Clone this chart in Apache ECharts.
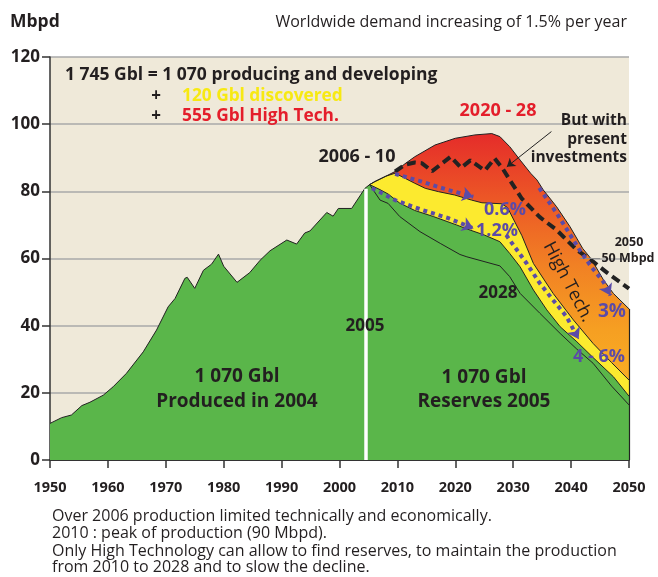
<!DOCTYPE html>
<html><head><meta charset="utf-8">
<script src="https://cdn.jsdelivr.net/npm/echarts@6/dist/echarts.min.js"></script>
<style>html,body{margin:0;padding:0;background:#fff}#c{width:658px;height:577px}</style>
</head><body><div id="c"></div>
<script>
// ---------- DATA ----------
const xTickYears = [1950,1960,1970,1980,1990,2000,2010,2020,2030,2040,2050];
const yTicks = [0,20,40,60,80,100,120];

// historical world production (Mbpd), 1950-2005
const historic = [[1950,10.9],[1952,12.6],[1953.7,13.4],[1955.5,16.2],[1956.9,17.2],[1959.2,19.3],[1960.9,21.8],[1963.2,25.8],[1966.1,32.2],[1968.4,38.7],[1970.4,45.6],[1971.6,48.1],[1973.3,54.1],[1973.7,54.4],[1975,51.1],[1976.5,56.5],[1977.9,58.3],[1979.1,61.3],[1980,57.7],[1982.3,52.9],[1984.5,55.8],[1986.3,59.5],[1988,62.3],[1990.9,65.5],[1992.6,64.3],[1994,67.6],[1994.9,68.2],[1997.8,73.7],[1998.9,72.6],[1999.8,74.9],[2002.1,74.9],[2004.4,80.9],[2005.2,82]];
// producing and developing (1 070 Gbl) forecast
const producing = [[2007,80.5],[2008.4,79.2],[2010.4,76.5],[2013,74.3],[2016.2,72.5],[2020.2,70.0],[2022,68.8],[2025,67],[2027.7,65.0],[2029.4,61.5],[2031.2,57.5],[2033.5,50.6],[2035.8,44.7],[2038.1,39.7],[2041,35.2],[2043.8,30.5],[2047.3,24.8],[2050,19]];
// 2028 curve (reserves 2005)
const reserves2028 = [[2005.2,82],[2007,77.4],[2008.4,76.4],[2010.4,72.5],[2013.9,68],[2017.4,64.5],[2020.8,61.2],[2022,60.5],[2027.7,57.8],[2029.4,54.6],[2031.2,49.6],[2034.6,43.7],[2038.1,37.7],[2041,33],[2043.8,28.8],[2047,22],[2050,16.4]];
// + 120 Gbl discovered (top of yellow)
const discovered = [[2005.2,82],[2006.1,82.9],[2008,84.5],[2009.6,85.4],[2011.3,83.9],[2013,82.4],[2014.8,80.9],[2017.1,79.9],[2019.9,78.9],[2022.8,77.4],[2024.6,76.6],[2028,76.3],[2029,75.2],[2031.5,66.8],[2033.5,58.5],[2036.9,49.6],[2040.4,41.7],[2043.8,34.7],[2047,29],[2050,23.8]];
// + 555 Gbl High Tech (top of orange)
const highTech = [[2005.2,82],[2006.1,82.9],[2008,84.5],[2009.6,85.9],[2011.3,88.2],[2013,90.3],[2016.5,93.8],[2020,95.8],[2023.4,96.8],[2026.3,97.2],[2027.7,96.3],[2029.4,93.3],[2031.2,89.3],[2033,85.4],[2034.1,83.4],[2035.2,80.4],[2037.5,75.4],[2039.8,69.5],[2042,63],[2043.5,59.8],[2045.6,53.6],[2047.3,49.6],[2050,45]];
// but with present investments
const presentInv = [[2009.6,85.9],[2011.3,87.9],[2013,88.6],[2014.2,88.4],[2016,86],[2019.2,90.3],[2021,87],[2022.6,89.2],[2025.1,86.2],[2026.8,89.8],[2028.2,86.7],[2029.4,83.4],[2031.5,77.8],[2034.6,72.3],[2037.5,68.5],[2041,62.5],[2043.8,59.1],[2046.2,55.8],[2050,51]];
// decline-rate arrows
const arrow06 = [[2009.6,85.2],[2012,84],[2014.2,82.9],[2016.5,81.6],[2018.8,80.4],[2023.1,78.4]];
const arrow12 = [[2005.6,80.9],[2007.5,79.3],[2009.6,77.4],[2014.2,74.5],[2018.8,72.0],[2023.1,69.0]];
const arrow3 = [[2034.5,81],[2037.5,73.5],[2041.5,62.5],[2043.5,57.5],[2045.6,53],[2046.8,49]];
const arrow46 = [[2028.8,67],[2029.4,65.5],[2032.3,58.6],[2034.6,52.6],[2036.9,47.6],[2039.2,42.7],[2041.3,36]];
const pointer = [[2036.6,97.8],[2028.9,87.3]];
const leader2050 = [[2041.5,60.1],[2045,60.1]];
const cutYear = 2004.6, cutTop = 80.8;

// ---------- CHART ----------
const FF = "'Open Sans', sans-serif";
const DARK = '#231f20', PURPLE = '#5b4ba8';
const greenAll = historic.concat(producing);
const chart = echarts.init(document.getElementById('c'), null, {renderer:'canvas'});

function T(text, x, y, size, o) {
  o = o || {};
  return {type:'text', x:x, y:y, rotation:o.rot||0, z:100,
    style:{text:text, fill:o.fill||DARK, font:(o.weight||'bold')+' '+size+'px '+FF,
      textAlign:o.align||'left', textVerticalAlign:'middle',
      shadowColor:o.shadow||null, shadowOffsetX:o.shadow?1:0, shadowOffsetY:o.shadow?1:0, shadowBlur:o.shadow?1:0}};
}
function headOf(pts) { // short final segment, used only to orient the arrow head
  const a = pts[pts.length-2], b = pts[pts.length-1];
  return [[b[0]-(b[0]-a[0])*0.08, b[1]-(b[1]-a[1])*0.08], b];
}
const dotted = (pts) => ({type:'line', data:pts, symbol:'none', z:5,
  lineStyle:{color:PURPLE, width:4, type:[4,4], cap:'butt'}});

const option = {
  animation:false,
  backgroundColor:'#fff',
  grid:{left:50, right:29, top:57, bottom:117, show:true, backgroundColor:'#efe9d9', borderWidth:0},
  xAxis:{type:'value', min:1950, max:2050, interval:10,
    axisLine:{show:true, onZero:false, lineStyle:{color:'#333', width:2}},
    axisTick:{show:true, length:8, lineStyle:{color:'#333', width:1.5}},
    axisLabel:{margin:20, fontFamily:FF, fontWeight:'bold', fontSize:14.5, color:DARK,
      formatter:v=>xTickYears.indexOf(v)>=0?String(v):''},
    splitLine:{show:false}},
  yAxis:{type:'value', min:0, max:120, interval:20,
    axisLine:{show:true, lineStyle:{color:'#333', width:1.5}},
    axisTick:{show:true, length:8, lineStyle:{color:'#333', width:1.5}},
    axisLabel:{margin:10, fontFamily:FF, fontWeight:'bold', fontSize:17, color:DARK,
      formatter:v=>yTicks.indexOf(v)>=0?String(v):''},
    splitLine:{show:true, lineStyle:{color:'#a8a8a8', width:1.5}}},
  series:[
    {type:'line', data:highTech, symbol:'none', lineStyle:{color:'#222', width:1},
      areaStyle:{opacity:1, color:{type:'linear',x:0,y:0,x2:0,y2:1,colorStops:[
        {offset:0,color:'#e52c2a'},{offset:0.2,color:'#ec5726'},{offset:0.4,color:'#f18024'},
        {offset:0.6,color:'#f69f22'},{offset:0.75,color:'#f9ae24'},{offset:1,color:'#f9ae24'}]}}},
    {type:'line', data:discovered, symbol:'none', lineStyle:{color:'#222', width:1},
      areaStyle:{opacity:1, color:'#fcea2f'}},
    {type:'line', data:greenAll, symbol:'none', lineStyle:{color:'#222', width:1},
      areaStyle:{opacity:1, color:'#5ab64a'}},
    {type:'line', data:reserves2028, symbol:'none', lineStyle:{color:'#222', width:1},
      markLine:{silent:true, symbol:'none', label:{show:false}, data:[
        [{coord:[cutYear,0], lineStyle:{color:'#fff', width:3.5, type:'solid'}},{coord:[cutYear,cutTop]}],
        [{coord:[2050,0], lineStyle:{color:'#222', width:1.2, type:'solid'}},{coord:[2050,45]}]
      ]}},
    {type:'line', data:presentInv, symbol:'none', z:4, lineStyle:{color:'#222', width:4, type:[9,5], cap:'butt'},
      markLine:{silent:true, symbol:'none', label:{show:false}, data:[
        [{coord:leader2050[0], lineStyle:{color:'#8c8c8c', width:1, type:'solid'}},{coord:leader2050[1]}]]}},
    dotted(arrow06), dotted(arrow12), dotted(arrow3), dotted(arrow46),
    {type:'lines', coordinateSystem:'cartesian2d', polyline:false, symbol:['none','arrow'], symbolSize:11, z:6,
      lineStyle:{color:PURPLE, width:1, opacity:1},
      data:[{coords:headOf(arrow06)},{coords:headOf(arrow12)},{coords:headOf(arrow3)},{coords:headOf(arrow46)}]},
    {type:'lines', coordinateSystem:'cartesian2d', polyline:false, symbol:['none','arrow'], symbolSize:8, z:6,
      lineStyle:{color:'#222', width:1, opacity:1}, data:[{coords:pointer}]}
  ],
  graphic:[
    T('Mbpd', 10, 22, 17.5),
    T('Worldwide demand increasing of 1.5% per year', 627, 22, 16, {weight:'normal', align:'right'}),
    T('1 745 Gbl = 1 070 producing and developing', 65, 75, 17.5),
    T('+', 156, 96, 17, {align:'center'}),
    T('+', 156, 116, 17, {align:'center'}),
    T('120 Gbl discovered', 182, 96, 17.3, {fill:'#f7e912', shadow:'rgba(0,0,0,0.55)'}),
    T('555 Gbl High Tech.', 182, 116, 17.3, {fill:'#e41e2b', shadow:'rgba(0,0,0,0.45)'}),
    T('2020 - 28', 498, 111, 18, {fill:'#e41e2b', align:'center'}),
    T('But with', 627, 121, 15.5, {align:'right'}),
    T('present', 627, 140, 15.5, {align:'right'}),
    T('investments', 627, 158, 15.5, {align:'right'}),
    T('2006 - 10', 357, 157, 18, {align:'center'}),
    T('0.6%', 505, 210, 18, {fill:PURPLE, align:'center'}),
    T('1.2%', 497, 231, 18, {fill:PURPLE, align:'center'}),
    T('2050', 629, 242, 12.5, {align:'center'}),
    T('50 Mbpd', 628, 258, 12.5, {align:'center'}),
    T('High Tech.', 568, 282, 18, {weight:'normal', align:'center', rot:-1.09}),
    T('3%', 612, 312, 19, {fill:PURPLE, align:'center'}),
    T('4 - 6%', 599, 357, 18, {fill:PURPLE, align:'center'}),
    T('2028', 498, 293, 17, {align:'center'}),
    T('2005', 365, 326, 17, {align:'center'}),
    T('1 070 Gbl', 237, 377, 19, {align:'center'}),
    T('Produced in 2004', 237, 402, 19, {align:'center'}),
    T('1 070 Gbl', 484, 378, 19, {align:'center'}),
    T('Reserves 2005', 484, 402, 19, {align:'center'}),
    T('Over 2006 production limited technically and economically.', 52, 516, 16, {weight:'normal'}),
    T('2010 : peak of production (90 Mbpd).', 52, 533, 16, {weight:'normal'}),
    T('Only High Technology can allow to find reserves, to maintain the production', 52, 551, 16, {weight:'normal'}),
    T('from 2010 to 2028 and to slow the decline.', 52, 567, 16, {weight:'normal'})
  ]
};
chart.setOption(option);
</script>
</body></html>
